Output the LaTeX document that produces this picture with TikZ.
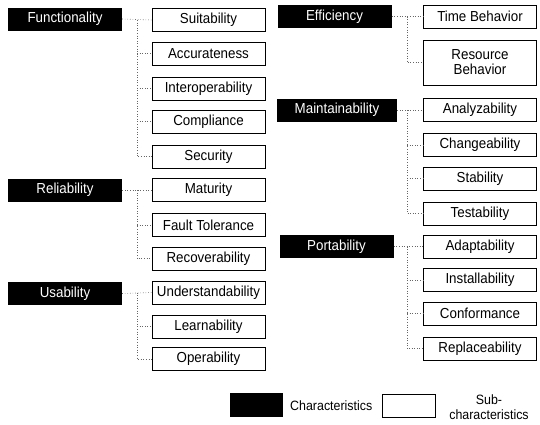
\documentclass[tikz,border=0pt]{standalone}
\usepackage{fontspec}
\setmainfont{Liberation Sans}[FakeStretch=0.92]
\begin{document}
\begin{tikzpicture}[x=1pt,y=-1pt,
  every node/.style={font=\fontsize{14.5}{15}\selectfont},
  chr/.style={fill=black,text=white,minimum width=114pt,minimum height=23pt,inner sep=0pt},
  sub/.style={draw=black,line width=0.7pt,minimum width=113pt,minimum height=23pt,inner sep=0pt,align=center},
  conn/.style={draw=black!60,dotted,line width=0.6pt},
  legtext/.style={font=\fontsize{13.5}{14.5}\selectfont,inner sep=0pt}]
\useasboundingbox (0,0) rectangle (540,424);
% left column characteristics
\node[chr] (fun) at (65,19) {Functionality};
\node[chr] (rel) at (65,190) {Reliability};
\node[chr] (usa) at (65,293.5) {Usability};
% left subs
\node[sub] (suit) at (208.5,20) {Suitability};
\node[sub] (acc) at (208.5,53.5) {Accurateness};
\node[sub] (int) at (208.5,88.5) {Interoperability};
\node[sub] (com) at (208.5,121.5) {Compliance};
\node[sub] (sec) at (208.5,156.5) {Security};
\node[sub] (mat) at (208.5,190) {Maturity};
\node[sub] (ft) at (208.5,225) {Fault Tolerance};
\node[sub] (rec) at (208.5,258.5) {Recoverability};
\node[sub] (und) at (208.5,292.5) {Understandability};
\node[sub] (lea) at (208.5,326.5) {Learnability};
\node[sub] (ope) at (208.5,359) {Operability};
% right column characteristics
\node[chr] (eff) at (334.5,16.5) {Efficiency};
\node[chr,minimum width=120pt] (mai) at (337,110) {Maintainability};
\node[chr] (por) at (336.5,246.5) {Portability};
% right subs
\node[sub] (tim) at (480,16.5) {Time Behavior};
\node[sub,minimum height=45pt] (res) at (480,62.5) {Resource\\Behavior};
\node[sub] (ana) at (480,110) {Analyzability};
\node[sub] (cha) at (480,145) {Changeability};
\node[sub] (sta) at (480,178.5) {Stability};
\node[sub] (tes) at (480,213.5) {Testability};
\node[sub] (ada) at (480,246.5) {Adaptability};
\node[sub] (ins) at (480,280) {Installability};
\node[sub] (con) at (480,313.5) {Conformance};
\node[sub] (rep) at (480,348.5) {Replaceability};
% trunks
\coordinate (tl) at (137,0);
\coordinate (tr) at (407,0);
% connectors left
\draw[conn] (fun.east) -- (suit.west);
\draw[conn] (suit.west -| tl) |- (sec.west);
\foreach \n in {acc,int,com} \draw[conn] (\n.west -| tl) -- (\n.west);
\draw[conn] (rel.east) -- (mat.west);
\draw[conn] (mat.west -| tl) |- (rec.west);
\draw[conn] (ft.west -| tl) -- (ft.west);
\draw[conn] (usa.east) -- (und.west);
\draw[conn] (und.west -| tl) |- (ope.west);
\draw[conn] (lea.west -| tl) -- (lea.west);
% connectors right
\draw[conn] (eff.east) -- (tim.west);
\draw[conn] (tim.west -| tr) |- (res.west);
\draw[conn] (mai.east) -- (ana.west);
\draw[conn] (ana.west -| tr) |- (tes.west);
\foreach \n in {cha,sta} \draw[conn] (\n.west -| tr) -- (\n.west);
\draw[conn] (por.east) -- (ada.west);
\draw[conn] (ada.west -| tr) |- (rep.west);
\foreach \n in {ins,con} \draw[conn] (\n.west -| tr) -- (\n.west);
% legend
\node[fill=black,minimum width=53pt,minimum height=24pt,inner sep=0pt] (lc) at (256.5,405) {};
\node[legtext,anchor=west] (lct) at (290,406) {Characteristics};
\node[draw=black,line width=0.7pt,minimum width=53pt,minimum height=23pt,inner sep=0pt] (ls) at (408.5,405.5) {};
\node[legtext,align=center] (lst) at (489,407) {Sub-\\characteristics};
\end{tikzpicture}
\end{document}
